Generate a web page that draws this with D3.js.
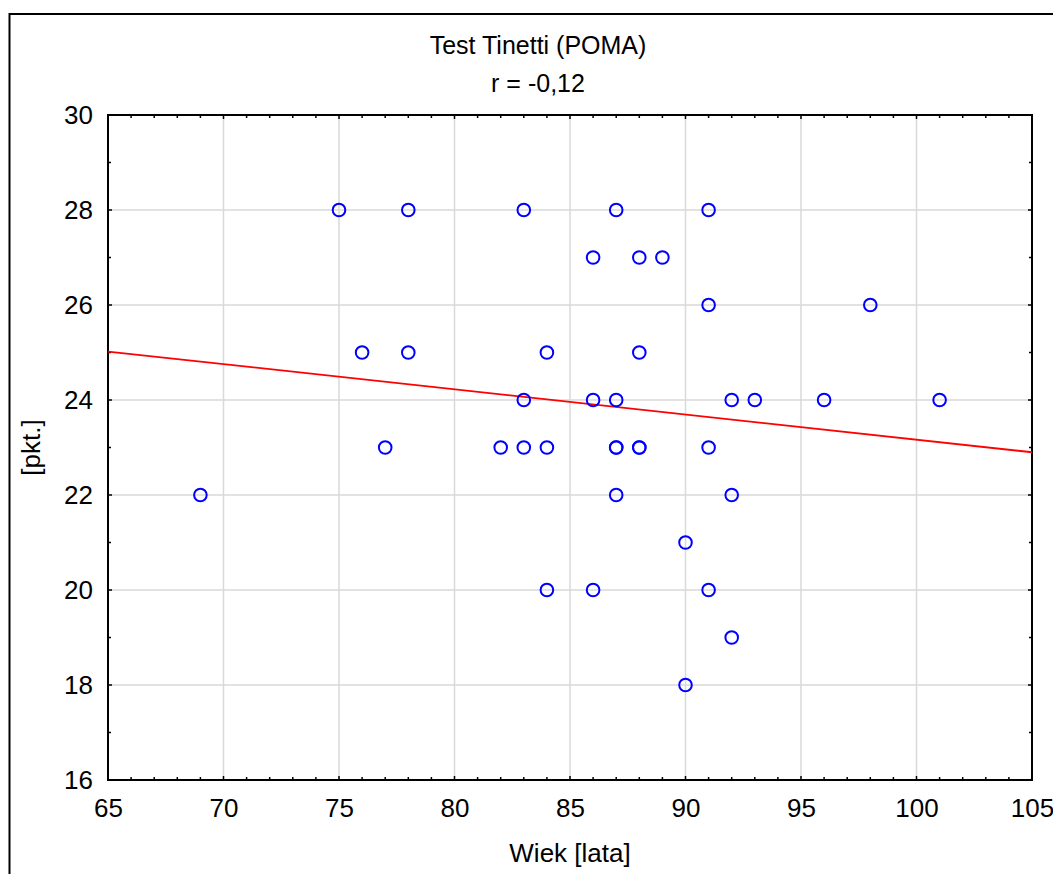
<!DOCTYPE html>
<html>
<head>
<meta charset="utf-8">
<script src="https://cdn.jsdelivr.net/npm/d3@7"></script>
<style>
  body { margin: 0; background: #fff; }
  text { font-family: "Liberation Sans", Arial, sans-serif; fill: #000; }
</style>
</head>
<body>
<script>
'use strict';

// data
const age = [75, 78, 83, 87, 91,
             86, 88, 89,
             91, 98,
             76, 78, 84, 88,
             83, 86, 87, 92, 93, 96, 101,
             77, 82, 83, 84, 87, 87, 88, 88, 91,
             69, 87, 92,
             90,
             84, 86, 91,
             92,
             90];
const score = [28, 28, 28, 28, 28,
               27, 27, 27,
               26, 26,
               25, 25, 25, 25,
               24, 24, 24, 24, 24, 24, 24,
               23, 23, 23, 23, 23, 23, 23, 23, 23,
               22, 22, 22,
               21,
               20, 20, 20,
               19,
               18];
// fitted line end points
const fitX = [65, 105];
const fitY = [25.02, 22.9];

const xTicks = [65, 70, 75, 80, 85, 90, 95, 100, 105];
const yTicks = [16, 18, 20, 22, 24, 26, 28, 30];

const width = 1053, height = 874;
const pLeft = 108, pRight = 1032, pTop = 115, pBottom = 780;

let svg = d3.select("body").append("svg")
    .attr("width", width)
    .attr("height", height);

// outer frame
svg.append("rect")
    .attr("x", 9.5).attr("y", 14)
    .attr("width", 1100).attr("height", 1000)
    .style("fill", "none")
    .style("stroke", "black")
    .attr("stroke-width", 2);

let x = d3.scaleLinear().domain([65, 105]).range([pLeft, pRight]);
let y = d3.scaleLinear().domain([16, 30]).range([pBottom, pTop]);

// grid
svg.append("g").selectAll("line")
    .data(xTicks.slice(1, -1))
    .enter().append("line")
    .attr("x1", d => x(d)).attr("x2", d => x(d))
    .attr("y1", pTop).attr("y2", pBottom)
    .style("stroke", "#d9d9d9").attr("stroke-width", 1.5);

svg.append("g").selectAll("line")
    .data(yTicks.slice(1, -1))
    .enter().append("line")
    .attr("y1", d => y(d)).attr("y2", d => y(d))
    .attr("x1", pLeft).attr("x2", pRight)
    .style("stroke", "#d9d9d9").attr("stroke-width", 1.5);

// inward ticks on all four sides
let xMinor = d3.range(66, 105);
let yMinor = d3.range(17, 30);
let ticks = svg.append("g").style("stroke", "black").attr("stroke-width", 1.5);
xMinor.forEach(function(v) {
    let len = v % 5 === 0 ? 4 : 3;
    ticks.append("line").attr("x1", x(v)).attr("x2", x(v)).attr("y1", pBottom).attr("y2", pBottom - len);
    ticks.append("line").attr("x1", x(v)).attr("x2", x(v)).attr("y1", pTop).attr("y2", pTop + len);
});
yMinor.forEach(function(v) {
    let len = v % 2 === 0 ? 4 : 3;
    ticks.append("line").attr("y1", y(v)).attr("y2", y(v)).attr("x1", pLeft).attr("x2", pLeft + len);
    ticks.append("line").attr("y1", y(v)).attr("y2", y(v)).attr("x1", pRight).attr("x2", pRight - len);
});

// tick labels via d3 axes (text only)
svg.append("g")
    .attr("transform", "translate(0," + pBottom + ")")
    .call(d3.axisBottom(x).tickValues(xTicks).tickSize(0).tickPadding(19))
    .call(g => g.select(".domain").remove())
    .selectAll("text")
    .style("font-size", "26px")
    .attr("font-family", null);

svg.append("g")
    .attr("transform", "translate(" + pLeft + ",0)")
    .call(d3.axisLeft(y).tickValues(yTicks).tickSize(0).tickPadding(15))
    .call(g => g.select(".domain").remove())
    .selectAll("text")
    .style("font-size", "26px")
    .attr("font-family", null);

// plot frame
svg.append("rect")
    .attr("x", pLeft).attr("y", pTop)
    .attr("width", pRight - pLeft).attr("height", pBottom - pTop)
    .style("fill", "none")
    .style("stroke", "black")
    .attr("stroke-width", 2);

// regression line
let fit = fitX.map((v, i) => [v, fitY[i]]);
svg.append("path")
    .datum(fit)
    .attr("d", d3.line().x(d => x(d[0])).y(d => y(d[1])))
    .style("fill", "none")
    .style("stroke", "#ff0000")
    .attr("stroke-width", 1.8);

// points
svg.append("g").selectAll("circle")
    .data(age.map((a, i) => [a, score[i]]))
    .enter().append("circle")
    .attr("cx", d => x(d[0]))
    .attr("cy", d => y(d[1]))
    .attr("r", 6.3)
    .style("fill", "none")
    .style("stroke", "#0000ff")
    .attr("stroke-width", 2);

// titles
svg.append("text")
    .attr("x", 538).attr("y", 54)
    .attr("text-anchor", "middle")
    .style("font-size", "25px")
    .text("Test Tinetti (POMA)");
svg.append("text")
    .attr("x", 538).attr("y", 92)
    .attr("text-anchor", "middle")
    .style("font-size", "25px")
    .text("r = -0,12");

svg.append("text")
    .attr("x", (pLeft + pRight) / 2).attr("y", 862)
    .attr("text-anchor", "middle")
    .style("font-size", "26px")
    .text("Wiek [lata]");

svg.append("text")
    .attr("transform", "translate(40," + ((pTop + pBottom) / 2) + ") rotate(-90)")
    .attr("text-anchor", "middle")
    .style("font-size", "26px")
    .text("[pkt.]");
</script>
</body>
</html>
